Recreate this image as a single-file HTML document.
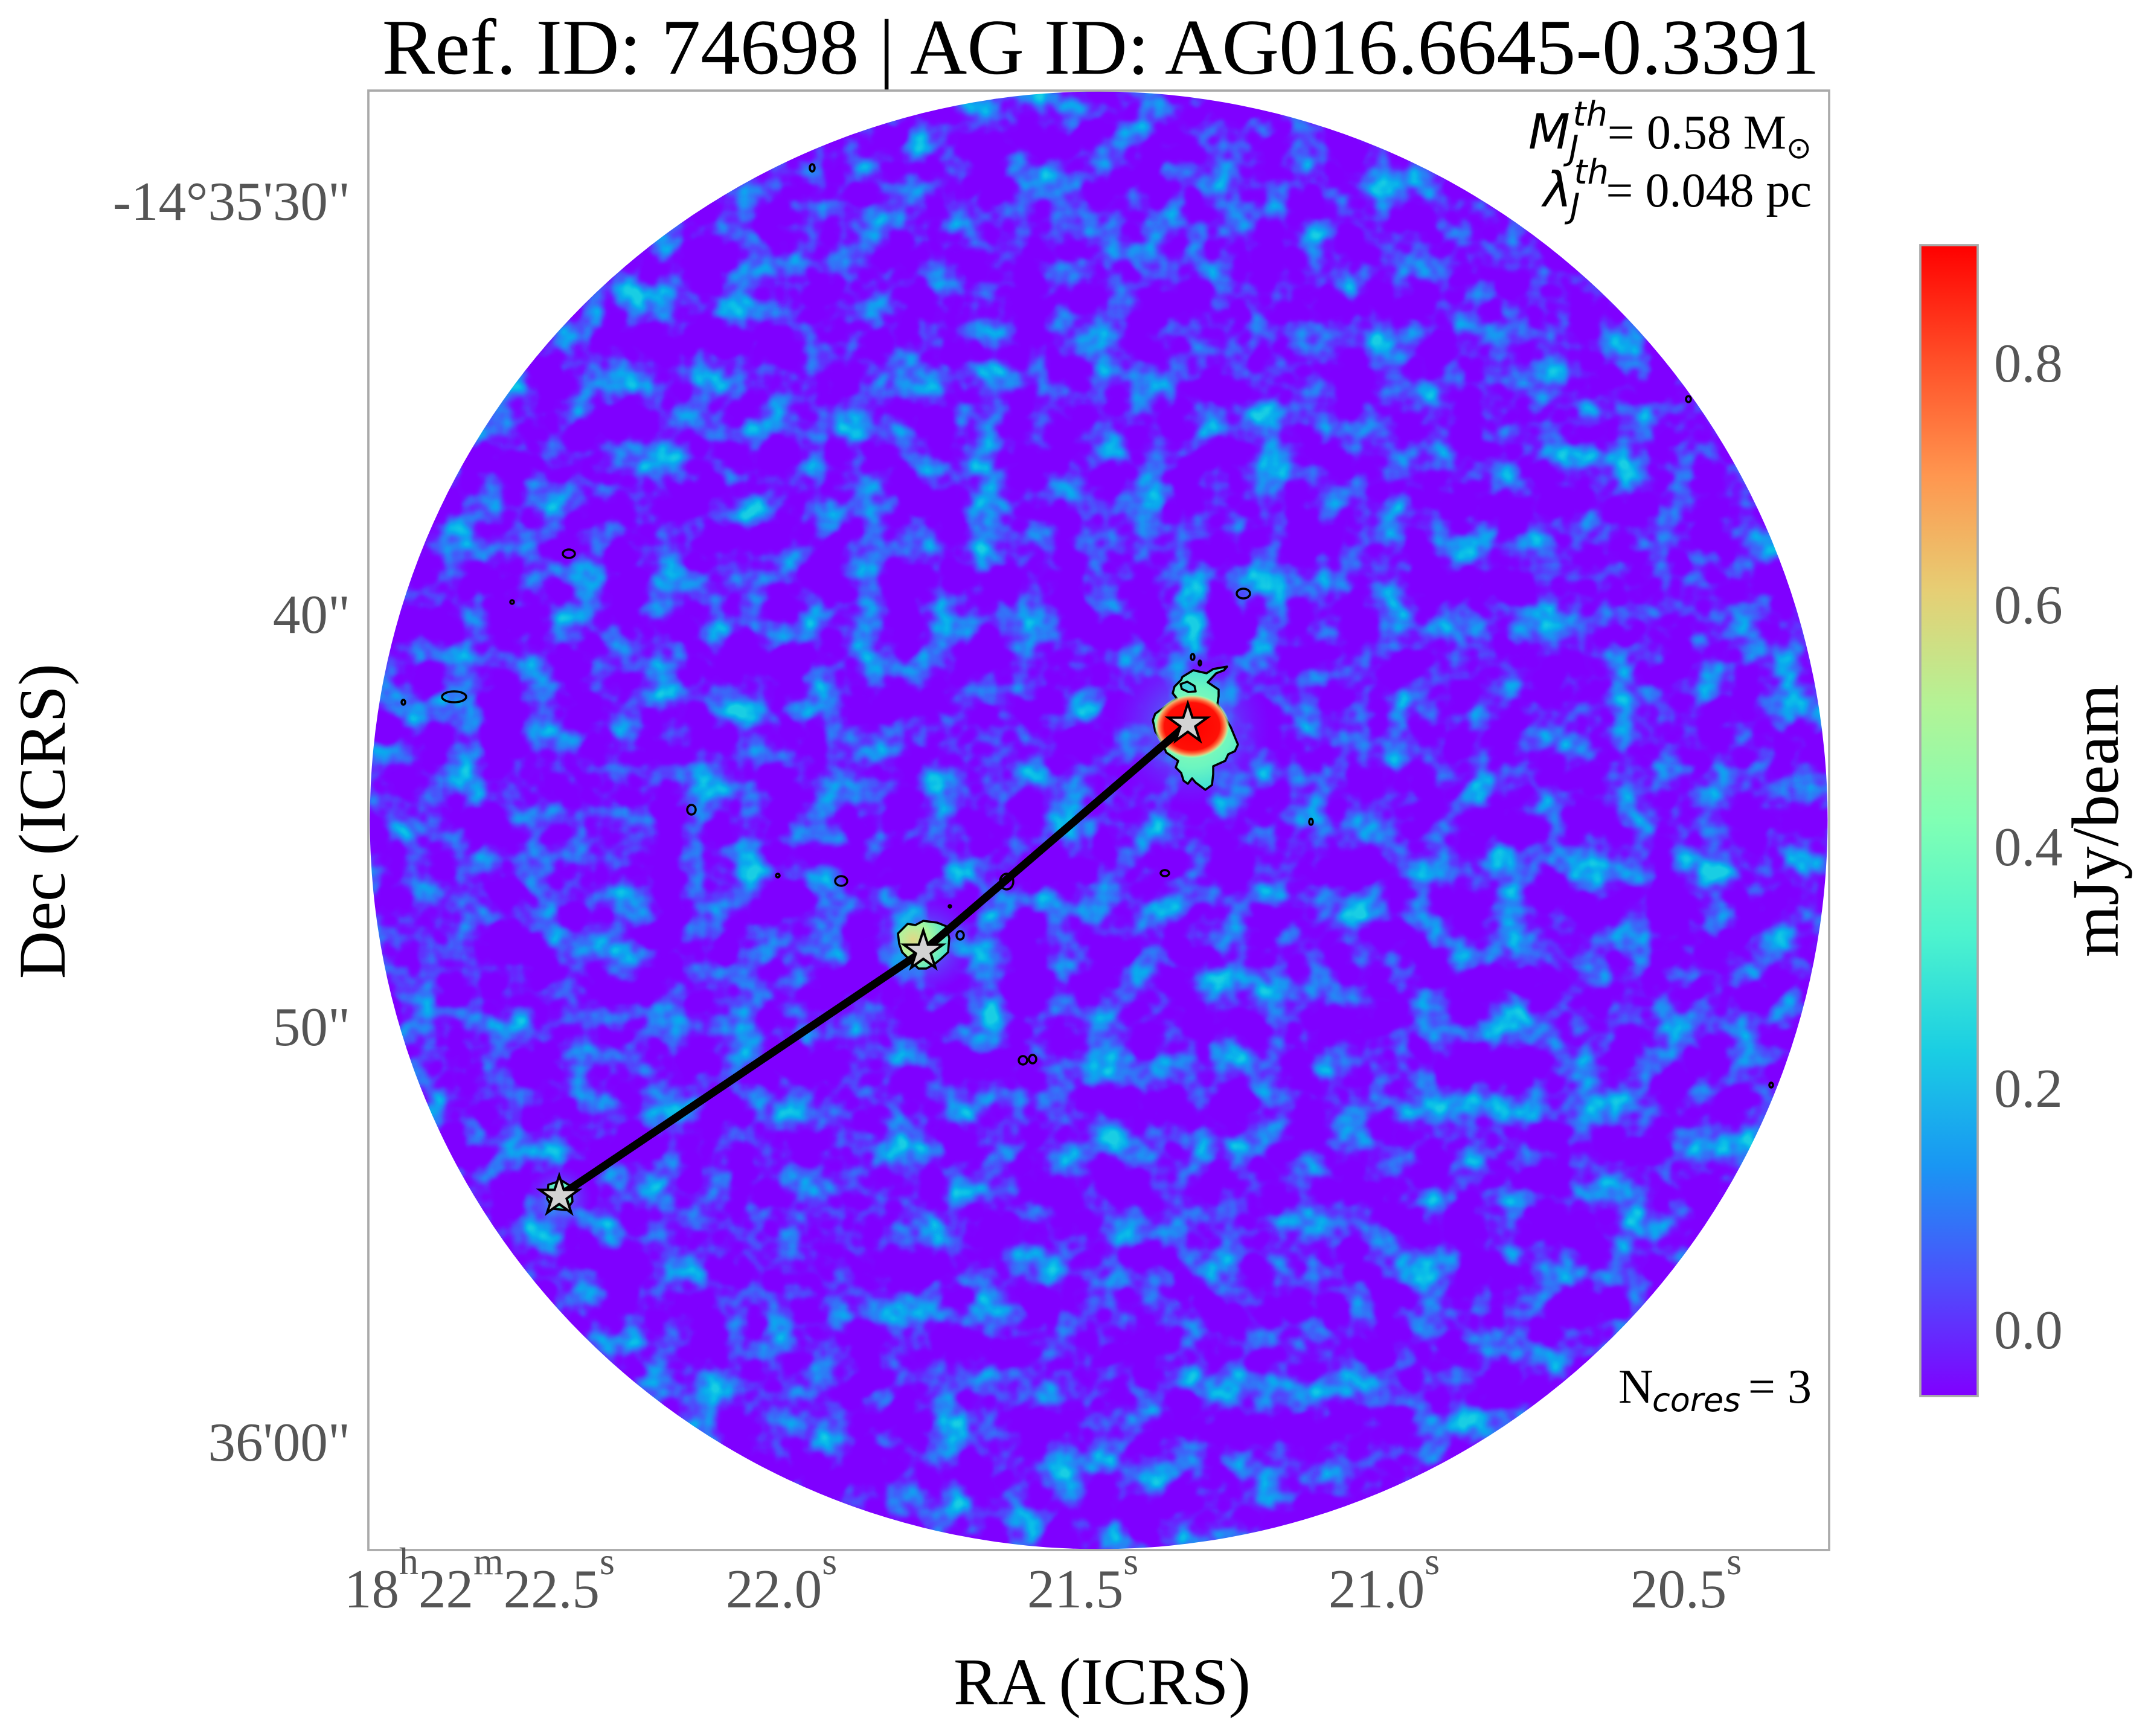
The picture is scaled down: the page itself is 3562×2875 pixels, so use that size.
<!DOCTYPE html>
<html>
<head>
<meta charset="utf-8">
<style>
html,body{margin:0;padding:0;background:#ffffff;}
svg{display:block;}
</style>
</head>
<body>
<svg xmlns="http://www.w3.org/2000/svg" xmlns:xlink="http://www.w3.org/1999/xlink" width="3562" height="2875" viewBox="0 0 3562 2875" font-family="'Liberation Serif', 'Times New Roman', serif">
<defs>
  <clipPath id="circ">
    <circle cx="1819.5" cy="1358.5" r="1207"/>
  </clipPath>
  <filter id="nz" x="0" y="0" width="1" height="1" color-interpolation-filters="sRGB">
    <feTurbulence type="fractalNoise" baseFrequency="0.015" numOctaves="3" seed="11" result="t"/>
    <feColorMatrix type="matrix" values="1 0 0 0 0  1 0 0 0 0  1 0 0 0 0  0 0 0 0 1"/>
    <feComponentTransfer>
      <feFuncR type="table" tableValues="0.5 0.5 0.5 0.5 0.5 0.5 0.5 0.5 0.5 0.49 0.44 0.36 0.28 0.2 0.12 0.04 0.04 0.1 0.1 0.1 0.1"/>
      <feFuncG type="table" tableValues="0 0 0 0 0 0 0 0 0 0.02 0.094 0.218 0.339 0.454 0.562 0.661 0.75 0.809 0.809 0.809 0.809"/>
      <feFuncB type="table" tableValues="1 1 1 1 1 1 1 1 1 1 1 0.994 0.985 0.972 0.956 0.935 0.911 0.891 0.891 0.891 0.891"/>
      <feFuncA type="identity"/>
    </feComponentTransfer>
  </filter>
  <linearGradient id="cbar" x1="0" y1="1" x2="0" y2="0">
    <stop offset="0" stop-color="#8000ff"/>
    <stop offset="0.1" stop-color="#4d4ffc"/>
    <stop offset="0.2" stop-color="#1996f3"/>
    <stop offset="0.3" stop-color="#1acee3"/>
    <stop offset="0.4" stop-color="#4df3ce"/>
    <stop offset="0.5" stop-color="#80ffb4"/>
    <stop offset="0.6" stop-color="#b3f396"/>
    <stop offset="0.7" stop-color="#e6ce74"/>
    <stop offset="0.8" stop-color="#ff964f"/>
    <stop offset="0.9" stop-color="#ff4f28"/>
    <stop offset="1" stop-color="#ff0000"/>
  </linearGradient>
  <radialGradient id="rc" cx="0.5" cy="0.5" r="0.5">
    <stop offset="0" stop-color="#ff0000"/>
    <stop offset="0.74" stop-color="#ff1006"/>
    <stop offset="0.83" stop-color="#ff5a30"/>
    <stop offset="0.91" stop-color="#f0b070"/>
    <stop offset="0.96" stop-color="#b8f59a" stop-opacity="0.7"/>
    <stop offset="1" stop-color="#80ffb4" stop-opacity="0"/>
  </radialGradient>
  <radialGradient id="c1fill" gradientUnits="userSpaceOnUse" cx="1974" cy="1205" r="110">
    <stop offset="0" stop-color="#a0fca8"/>
    <stop offset="0.6" stop-color="#6cf6c0"/>
    <stop offset="1" stop-color="#38dcd8"/>
  </radialGradient>
  <radialGradient id="c2fill" gradientUnits="userSpaceOnUse" cx="1512" cy="1556" r="60">
    <stop offset="0" stop-color="#e0d888"/>
    <stop offset="0.45" stop-color="#a8f8a0"/>
    <stop offset="1" stop-color="#48e6d0"/>
  </radialGradient>
  <radialGradient id="halo" cx="0.5" cy="0.5" r="0.5">
    <stop offset="0" stop-color="#30d0e8" stop-opacity="0.8"/>
    <stop offset="0.55" stop-color="#2a98f2" stop-opacity="0.35"/>
    <stop offset="1" stop-color="#4060ff" stop-opacity="0"/>
  </radialGradient>
  <polygon id="star" points="0,-34 7.64,-10.52 32.34,-10.51 12.36,4.02 19.99,27.51 0,13 -19.99,27.51 -12.36,4.02 -32.34,-10.51 -7.64,-10.52" fill="#d3d3d3" stroke="#000000" stroke-width="4" stroke-linejoin="miter"/>
</defs>

<!-- Title -->
<text x="1823" y="122" text-anchor="middle" font-size="131" fill="#000000">Ref. ID: 74698 | AG ID: AG016.6645-0.3391</text>

<!-- Map -->
<g clip-path="url(#circ)">
  <rect x="612" y="151" width="2416" height="2415" fill="#8000ff" filter="url(#nz)"/>
  <ellipse cx="1972" cy="1205" rx="130" ry="130" fill="url(#halo)"/>
  <ellipse cx="1530" cy="1565" rx="85" ry="80" fill="url(#halo)"/>
  <ellipse cx="926" cy="1985" rx="55" ry="55" fill="url(#halo)"/>
</g>

<!-- Core 1 contour region -->
<path d="M1958,1121 L1976,1110 L1998,1115 L2009,1108 L2032,1104 L2027,1110 L2014,1115 L2000,1130 L2018,1142 L2018,1153 L2016,1166 L2023,1179 L2038,1204 L2050,1233 L2045,1244 L2034,1249 L2029,1260 L2009,1269 L2009,1282 L2007,1300 L1996,1308 L1980,1296 L1974,1289 L1967,1298 L1960,1293 L1956,1280 L1947,1271 L1951,1260 L1931,1246 L1925,1229 L1913,1211 L1909,1193 L1913,1182 L1936,1166 L1949,1157 L1942,1148 L1945,1137 L1956,1126 Z" fill="url(#c1fill)" stroke="#000000" stroke-width="3.5" stroke-linejoin="round"/>
<path d="M1955,1133 L1966,1129 L1978,1136 L1980,1145 L1968,1146 L1957,1141 Z" fill="#40d8d8" stroke="#000000" stroke-width="3.5" stroke-linejoin="round"/>
<ellipse cx="1974" cy="1203" rx="62" ry="53" fill="url(#rc)"/>

<!-- Core 2 contour region -->
<path d="M1487,1546 L1503,1530 L1516,1532 L1529,1525 L1552,1528 L1567,1534 L1572,1554 L1570,1577 L1558,1588 L1547,1597 L1534,1604 L1521,1604 L1507,1590 L1494,1577 L1489,1563 Z" fill="url(#c2fill)" stroke="#000000" stroke-width="3.5" stroke-linejoin="round"/>

<!-- Core 3 small contour -->
<path d="M908,1962 L930,1955 L946,1965 L948,1990 L938,2004 L916,2002 L906,1985 Z" fill="#60f0c8" stroke="#000000" stroke-width="3.5" stroke-linejoin="round"/>

<!-- small contours -->
<g fill="none" stroke="#000000" stroke-width="3.5">
  <ellipse cx="1345" cy="278" rx="4" ry="6"/>
  <ellipse cx="942" cy="917" rx="10" ry="7"/>
  <ellipse cx="848" cy="997" rx="3" ry="3"/>
  <ellipse cx="752" cy="1154" rx="20" ry="9"/>
  <ellipse cx="668" cy="1163" rx="3" ry="4"/>
  <ellipse cx="1145" cy="1341" rx="7" ry="8"/>
  <ellipse cx="1288" cy="1450" rx="3" ry="3"/>
  <ellipse cx="1393" cy="1459" rx="10" ry="8"/>
  <ellipse cx="1667" cy="1460" rx="11" ry="13"/>
  <ellipse cx="2059" cy="983" rx="11" ry="8"/>
  <ellipse cx="1975" cy="1088" rx="3" ry="5"/>
  <ellipse cx="1987" cy="1098" rx="2" ry="4"/>
  <ellipse cx="2171" cy="1361" rx="3" ry="5"/>
  <ellipse cx="1929" cy="1446" rx="7" ry="5"/>
  <ellipse cx="1590" cy="1549" rx="6" ry="7"/>
  <ellipse cx="1573" cy="1501" rx="2" ry="2"/>
  <ellipse cx="1694" cy="1756" rx="7" ry="7"/>
  <ellipse cx="1710" cy="1754" rx="6" ry="7"/>
  <ellipse cx="2796" cy="661" rx="4" ry="5"/>
  <ellipse cx="2933" cy="1797" rx="3" ry="4"/>
</g>

<!-- Filament line -->
<polyline points="926,1981 1529,1575 1967,1199" fill="none" stroke="#000000" stroke-width="13" stroke-linejoin="round" stroke-linecap="round"/>

<!-- Stars -->
<use xlink:href="#star" href="#star" x="1967" y="1199"/>
<use xlink:href="#star" href="#star" x="1529" y="1575"/>
<use xlink:href="#star" href="#star" x="926" y="1981"/>

<!-- Frame -->
<rect x="610" y="150" width="2419" height="2417" fill="none" stroke="#aaaaaa" stroke-width="3.7"/>

<!-- Annotations -->
<g fill="#000000">
  <text x="2600" y="246" text-anchor="end" font-family="'DejaVu Sans', sans-serif" font-style="italic" font-size="80">M</text>
  <text x="2662" y="208" text-anchor="end" font-family="'DejaVu Sans', sans-serif" font-style="italic" font-size="56">th</text>
  <text x="2598" y="264" font-family="'DejaVu Sans', sans-serif" font-style="italic" font-size="56">J</text>
  <text x="2958" y="246" text-anchor="end" font-size="80">= 0.58 M</text>
  <text x="2958" y="262" font-family="'DejaVu Sans', sans-serif" font-size="50">⊙</text>

  <text x="2603" y="342" text-anchor="end" font-family="'DejaVu Sans', sans-serif" font-style="italic" font-size="80">λ</text>
  <text x="2664" y="304" text-anchor="end" font-family="'DejaVu Sans', sans-serif" font-style="italic" font-size="56">th</text>
  <text x="2600" y="360" font-family="'DejaVu Sans', sans-serif" font-style="italic" font-size="56">J</text>
  <text x="3000" y="342" text-anchor="end" font-size="80">= 0.048 pc</text>

  <text x="2680" y="2323" font-size="80">N</text>
  <text x="2736" y="2337" font-family="'DejaVu Sans', sans-serif" font-style="italic" font-size="54">cores</text>
  <text x="3000" y="2323" text-anchor="end" font-size="80">= 3</text>
</g>

<!-- Y tick labels -->
<g fill="#555555" font-size="91" text-anchor="end">
  <text x="580" y="364">-14°35'30"</text>
  <text x="580" y="1048">40"</text>
  <text x="580" y="1731">50"</text>
  <text x="580" y="2419">36'00"</text>
</g>

<!-- X tick labels -->
<g fill="#555555" font-size="91">
  <text x="570" y="2662">18<tspan font-size="64" dy="-55">h</tspan><tspan dy="55">22</tspan><tspan font-size="64" dy="-55">m</tspan><tspan dy="55">22.5</tspan><tspan font-size="64" dy="-55">s</tspan></text>
  <text x="1202" y="2662">22.0<tspan font-size="64" dy="-55">s</tspan></text>
  <text x="1701" y="2662">21.5<tspan font-size="64" dy="-55">s</tspan></text>
  <text x="2200" y="2662">21.0<tspan font-size="64" dy="-55">s</tspan></text>
  <text x="2700" y="2662">20.5<tspan font-size="64" dy="-55">s</tspan></text>
</g>

<!-- Axis labels -->
<text x="1825" y="2822" text-anchor="middle" font-size="110" fill="#000000">RA (ICRS)</text>
<text transform="translate(107,1360) rotate(-90)" text-anchor="middle" font-size="110" fill="#000000">Dec (ICRS)</text>

<!-- Colorbar -->
<rect x="3180" y="406" width="95" height="1906" fill="url(#cbar)" stroke="#aaaaaa" stroke-width="3.7"/>
<g fill="#555555" font-size="91">
  <text x="3302" y="632">0.8</text>
  <text x="3302" y="1032">0.6</text>
  <text x="3302" y="1433">0.4</text>
  <text x="3302" y="1833">0.2</text>
  <text x="3302" y="2233">0.0</text>
</g>
<text transform="translate(3507,1359) rotate(-90)" text-anchor="middle" font-size="110" fill="#000000">mJy/beam</text>
</svg>
</body>
</html>
